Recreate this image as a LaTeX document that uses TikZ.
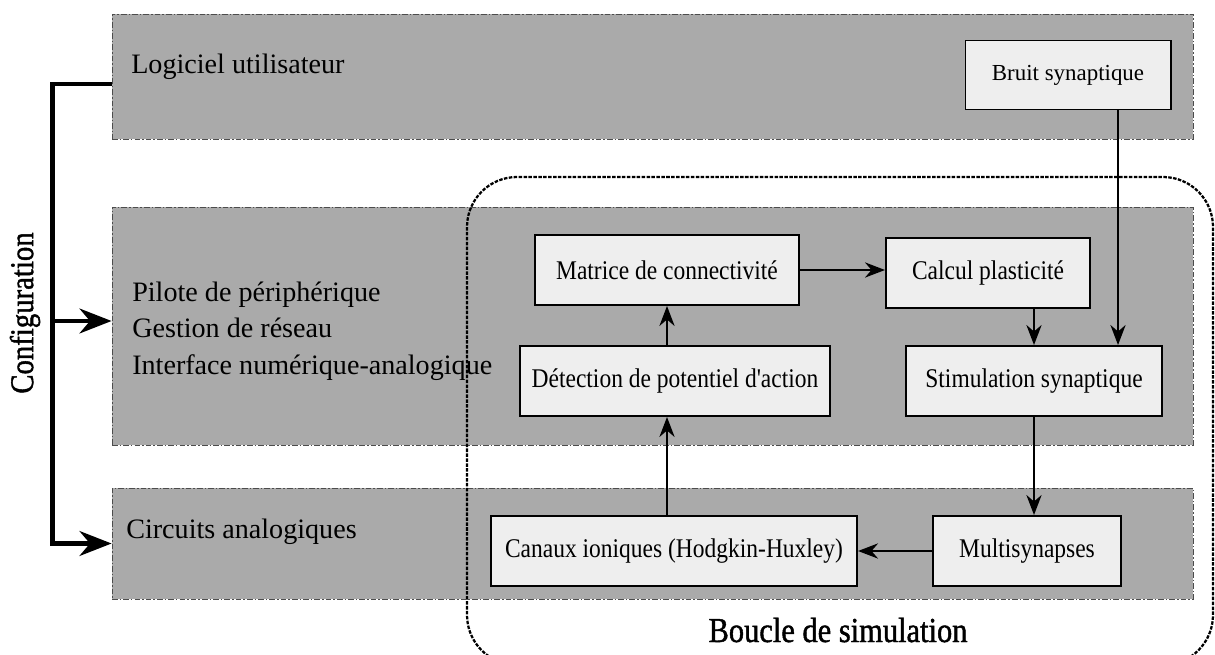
\documentclass[tikz,border=0pt]{standalone}
\usepackage{fontspec}
\setmainfont{Liberation Serif}
\newfontfamily\narrowserif[FakeStretch=0.87]{Liberation Serif}
\newfontfamily\heavyserif[FakeStretch=0.87,FakeBold=1.2]{Liberation Serif}
\usetikzlibrary{positioning,arrows.meta,fit}
\definecolor{layergray}{RGB}{170,170,170}
\definecolor{boxgray}{RGB}{238,238,238}

\begin{document}
\begin{tikzpicture}[x=0.025cm,y=-0.025cm,
  layer/.style={rectangle,draw=black!70,fill=layergray,line width=0.6pt,
    dash pattern=on 4pt off 1.5pt on 1pt off 1.5pt,inner sep=0pt},
  ltext/.style={font=\fontsize{20}{26.1}\selectfont,align=left,inner sep=0pt},
  bloc/.style={rectangle,draw=black,fill=boxgray,line width=1.4pt,
    font=\narrowserif\fontsize{19.2}{23}\selectfont,minimum height=1.75cm,align=center},
  barr/.style={-{Stealth[length=0.5cm,width=0.38cm]},line width=1.3pt},
  carr/.style={-{Stealth[length=0.8cm,width=0.62cm]},line width=3.2pt},
  loopline/.style={dash pattern=on 2.5pt off 1pt,line width=1.6pt,rounded corners=1.25cm}
]
\useasboundingbox (0,0) rectangle (1215,655);

% software / hardware layers
\node[layer,fit={(112,14) (1193,139)}] (user) {};
\node[layer,fit={(112,207) (1193,445)}] (driver) {};
\node[layer,fit={(112,488) (1193,599)}] (analog) {};
\node[ltext,anchor=base west] (usertxt) at (131,74) {Logiciel utilisateur};
\node[ltext,anchor=west] (drivertxt) at (132,331) {Pilote de périphérique\\Gestion de réseau\\Interface numérique-analogique};
\node[ltext,anchor=base west] (analogtxt) at (126,538) {Circuits analogiques};

% configuration bus
\node[font=\heavyserif\fontsize{23.5}{28}\selectfont,rotate=90] (config) at (25,313) {Configuration};
\coordinate (cfgbot) at ([xshift=-1.475cm]analog.west);
\draw[carr] ([yshift=-0.19cm]user.west) -| (cfgbot) -- (analog.west);
\draw[carr] (cfgbot |- driver.west) ++(0,-5) coordinate (cfgmid) -- (cfgmid -| driver.west);

% simulation loop
\draw[loopline] (467,177) rectangle (1213,665);
\node[font=\heavyserif\fontsize{24.9}{30}\selectfont,anchor=base] (looptxt) at (838,642) {Boucle de simulation};

\node[bloc,font=\fontsize{16.3}{20}\selectfont,minimum width=5.125cm,minimum height=1.725cm] (noise) at (1068,75) {Bruit synaptique};
\node[bloc,minimum width=6.6cm] (matrix) at (667,270) {Matrice de connectivité};
\node[bloc,minimum width=5.1cm] (plast) at (988,273) {Calcul plasticité};
\node[bloc,minimum width=7.75cm] (detect) at (675,381) {Détection de potentiel d'action};
\node[bloc,minimum width=6.4cm] (stim) at (1034,381) {Stimulation synaptique};
\node[bloc,minimum width=9.15cm] (channels) at (674,551) {Canaux ioniques (Hodgkin-Huxley)};
\node[bloc,minimum width=4.7cm] (multi) at (1027,551) {Multisynapses};

\draw[barr] (detect.north -| matrix.south) -- (matrix.south);
\draw[barr] (channels.north -| matrix.south) -- (detect.south -| matrix.south);
\draw[barr] (matrix.east) -- (matrix.east -| plast.west);
\draw[barr] (plast.south -| stim.north) -- (stim.north);
\draw[barr] ([xshift=1.25cm]noise.south) -- ([xshift=1.25cm]noise.south |- stim.north);
\draw[barr] (stim.south) -- (stim.south |- multi.north);
\draw[barr] (multi.west) -- (multi.west -| channels.east);
\end{tikzpicture}
\end{document}
